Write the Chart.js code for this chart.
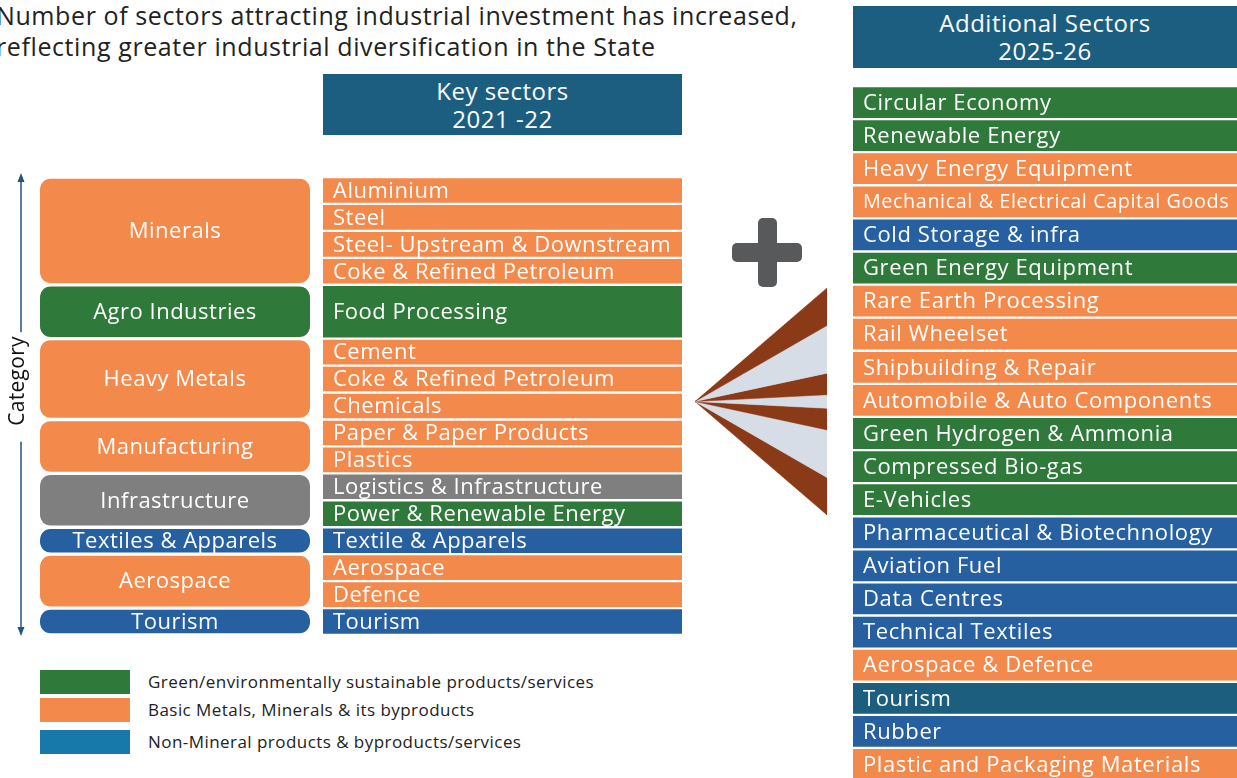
<!DOCTYPE html>
<html>
<head>
<meta charset="utf-8">
<title>Sectors attracting industrial investment</title>
<script src="https://cdn.jsdelivr.net/npm/chart.js@4.4.1/dist/chart.umd.min.js"></script>
<style>
  body { margin: 0; width: 1237px; height: 778px; overflow: hidden; background: #fff;
         position: relative; font-family: 'Open Sans', sans-serif; color: #222; }
  .title { position: absolute; left: -4px; top: 0; font-size: 25px; line-height: 31px; letter-spacing: 0.6px; white-space: nowrap; }
  .head { position: absolute; background: #1b5e80; color: #fff; text-align: center; letter-spacing: 0.5px;
          font-size: 24px; line-height: 28px; display: flex; flex-direction: column; justify-content: center; }
  .wrap { position: absolute; }
  .plus-h, .plus-v { position: absolute; background: #58595b; border-radius: 5px; }
  .legend-row { position: absolute; left: 40px; height: 24px; width: 620px; }
  .legend-row span.sw { position: absolute; left: 0; top: 0; width: 90px; height: 24px; }
  .legend-row span.tx { position: absolute; left: 108px; top: 0; line-height: 24px; font-size: 17px; letter-spacing: 0.45px; white-space: nowrap; }
</style>
</head>
<body>

<div class="title">Number of sectors attracting industrial investment has increased,<br>reflecting greater industrial diversification in the State</div>

<div class="head" style="left:323px; top:74px; width:359px; height:61px;"><div>Key sectors</div><div>2021 -22</div></div>
<div class="head" style="left:853px; top:6px; width:384px; height:62px;"><div>Additional Sectors</div><div>2025-26</div></div>

<div class="wrap" style="left:0; top:167px; width:310px; height:478px;"><canvas id="categoryChart"></canvas></div>
<div class="wrap" style="left:323px; top:177px; width:359px; height:458px;"><canvas id="keyChart"></canvas></div>
<div class="wrap" style="left:853px; top:86px; width:384px; height:695px;"><canvas id="addChart"></canvas></div>
<div class="wrap" style="left:695px; top:288px; width:132px; height:227px;"><canvas id="fanChart"></canvas></div>

<div class="plus-h" style="left:732px; top:243px; width:70px; height:19px;"></div>
<div class="plus-v" style="left:758px; top:218px; width:19px; height:69px;"></div>

<div id="legend"></div>

<script>
// ---- data ----
const categories = ['Minerals', 'Agro Industries', 'Heavy Metals', 'Manufacturing',
  'Infrastructure', 'Textiles & Apparels', 'Aerospace', 'Tourism'];
const categoryGroups = ['M', 'G', 'M', 'M', 'I', 'N', 'M', 'N'];

const keySectors = ['Aluminium', 'Steel', 'Steel- Upstream & Downstream', 'Coke & Refined Petroleum',
  'Food Processing', 'Cement', 'Coke & Refined Petroleum', 'Chemicals', 'Paper & Paper Products',
  'Plastics', 'Logistics & Infrastructure', 'Power & Renewable Energy', 'Textile & Apparels',
  'Aerospace', 'Defence', 'Tourism'];
const keySectorGroups = ['M', 'M', 'M', 'M', 'G', 'M', 'M', 'M', 'M', 'M', 'I', 'G', 'N', 'M', 'M', 'N'];
const keySectorRows = [1, 1, 1, 1, 2, 1, 1, 1, 1, 1, 1, 1, 1, 1, 1, 1];
const keySectorCategory = [0, 0, 0, 0, 1, 2, 2, 2, 3, 3, 4, 4, 5, 6, 6, 7];

const additionalSectors = ['Circular Economy', 'Renewable Energy', 'Heavy Energy Equipment',
  'Mechanical & Electrical Capital Goods', 'Cold Storage & infra', 'Green Energy Equipment',
  'Rare Earth Processing', 'Rail Wheelset', 'Shipbuilding & Repair', 'Automobile & Auto Components',
  'Green Hydrogen & Ammonia', 'Compressed Bio-gas', 'E-Vehicles', 'Pharmaceutical & Biotechnology',
  'Aviation Fuel', 'Data Centres', 'Technical Textiles', 'Aerospace & Defence', 'Tourism', 'Rubber',
  'Plastic and Packaging Materials'];
const additionalGroups = ['G', 'G', 'M', 'M', 'N', 'G', 'M', 'M', 'M', 'M', 'G', 'G', 'G',
  'N', 'N', 'N', 'N', 'M', 'T', 'N', 'M'];

const legendLabels = ['Green/environmentally sustainable products/services',
  'Basic Metals, Minerals & its byproducts', 'Non-Mineral products & byproducts/services'];

// fan: right-edge band boundaries (0 = top, 1 = bottom), apex on the left
const fanEdges = [0, 0.165, 0.375, 0.47, 0.53, 0.625, 0.835, 1];
const fanApex = 0.5;

// ---- styles ----
const groupColors = { G: '#2f7a3b', M: '#f4894c', N: '#2660a0', I: '#7f7f7f', T: '#1b5e7e' };
const legendColors = ['#2f7a3b', '#f4894c', '#1679a9'];
const fanColors = ['#8a3a17', '#d6dde6'];
const FONT = "'Open Sans', sans-serif";

// category spans come from the rows of their sectors
const categoryRows = categories.map((c, ci) =>
  keySectorRows.reduce((s, r, i) => s + (keySectorCategory[i] === ci ? r : 0), 0));

const barLabels = {
  id: 'barLabels',
  afterDatasetsDraw(chart, args, opts) {
    const ctx = chart.ctx;
    ctx.save();
    ctx.fillStyle = '#fff';
    ctx.textBaseline = 'middle';
    ctx.letterSpacing = opts.spacing + 'px';
    chart.data.datasets.forEach((ds, i) => {
      const bar = chart.getDatasetMeta(i).data[0];
      if (!bar) return;
      const { x, y, base, width } = bar.getProps(['x', 'y', 'base', 'width'], true);
      const cy = (y + base) / 2 + 1;
      let size = opts.size;
      ctx.font = `${size}px ${FONT}`;
      const room = width - 2 * opts.pad;
      const w = ctx.measureText(ds.label).width;
      if (w > room) {
        size = size * room / w;
        ctx.font = `${size}px ${FONT}`;
      }
      if (opts.align === 'center') {
        ctx.textAlign = 'center';
        ctx.fillText(ds.label, x, cy);
      } else {
        ctx.textAlign = 'left';
        ctx.fillText(ds.label, x - width / 2 + opts.pad, cy);
      }
    });
    ctx.restore();
  }
};

const categoryAxis = {
  id: 'categoryAxis',
  afterDraw(chart) {
    const ctx = chart.ctx;
    const area = chart.chartArea;
    const ax = 21, tx = 18, ty = 214;
    ctx.save();
    ctx.font = `21px ${FONT}`;
    ctx.letterSpacing = '0.3px';
    const half = ctx.measureText('Category').width / 2;
    ctx.strokeStyle = '#24557f';
    ctx.fillStyle = '#24557f';
    ctx.lineWidth = 1.5;
    ctx.beginPath();
    ctx.moveTo(ax, area.top + 2); ctx.lineTo(ax, ty - half - 4);
    ctx.moveTo(ax, ty + half + 16); ctx.lineTo(ax, area.bottom - 4);
    ctx.stroke();
    ctx.beginPath();
    ctx.moveTo(ax, area.top - 4); ctx.lineTo(ax - 3.5, area.top + 5); ctx.lineTo(ax + 3.5, area.top + 5); ctx.closePath();
    ctx.moveTo(ax, area.bottom + 1); ctx.lineTo(ax - 3.5, area.bottom - 8); ctx.lineTo(ax + 3.5, area.bottom - 8); ctx.closePath();
    ctx.fill();
    ctx.translate(tx, ty);
    ctx.rotate(-Math.PI / 2);
    ctx.fillStyle = '#111';
    ctx.textAlign = 'center';
    ctx.textBaseline = 'middle';
    ctx.fillText('Category', 0, 0);
    ctx.restore();
  }
};

const columnOptions = (labelOpts, extra = {}) => ({
  responsive: true,
  maintainAspectRatio: false,
  animation: false,
  events: [],
  layout: { padding: extra.padding || 0 },
  plugins: { legend: { display: false }, tooltip: { enabled: false }, barLabels: labelOpts },
  scales: {
    x: { stacked: true, display: false },
    y: Object.assign({ stacked: true, reverse: true, min: 0, display: false }, extra.y || {})
  }
});

const stackColumn = (labels, rows, groups, style) => labels.map((label, i) => ({
  label,
  data: [rows[i]],
  backgroundColor: groupColors[groups[i]],
  borderColor: '#fff',
  borderWidth: style.border,
  borderSkipped: false,
  borderRadius: style.radius,
  barPercentage: 1,
  categoryPercentage: 1
}));

const sum = (a) => a.reduce((s, v) => s + v, 0);

new Chart(document.getElementById('categoryChart'), {
  type: 'bar',
  data: {
    labels: ['Category'],
    datasets: stackColumn(categories, categoryRows, categoryGroups, {
      border: { top: 2, bottom: 2, left: 0, right: 0 },
      radius: { topLeft: 13, topRight: 13, bottomLeft: 13, bottomRight: 13 }
    })
  },
  options: columnOptions({ size: 22, pad: 8, align: 'center', spacing: 0.5 }, {
    padding: { top: 10, bottom: 10 },
    y: {
      max: sum(categoryRows), display: true,
      ticks: { display: false }, grid: { display: false }, border: { display: false },
      afterFit: (scale) => { scale.width = 40; }
    }
  }),
  plugins: [barLabels, categoryAxis]
});

new Chart(document.getElementById('keyChart'), {
  type: 'bar',
  data: {
    labels: ['2021-22'],
    datasets: stackColumn(keySectors, keySectorRows, keySectorGroups, {
      border: { top: 1.5, bottom: 1.5, left: 0, right: 0 }, radius: 0
    })
  },
  options: columnOptions({ size: 22, pad: 10, align: 'left', spacing: 0.5 }, { y: { max: sum(keySectorRows) } }),
  plugins: [barLabels]
});

const additionalRows = additionalSectors.map(() => 1);
new Chart(document.getElementById('addChart'), {
  type: 'bar',
  data: {
    labels: ['2025-26'],
    datasets: stackColumn(additionalSectors, additionalRows, additionalGroups, {
      border: { top: 1.5, bottom: 1.5, left: 0, right: 0 }, radius: 0
    })
  },
  options: columnOptions({ size: 22, pad: 10, align: 'left', spacing: 0.6 }, { y: { max: sum(additionalRows) } }),
  plugins: [barLabels]
});

// fan of triangles, each band from the apex to a stretch of the right edge
const fanDatasets = fanEdges.slice(0, -1).map((e, i) => ({
  label: 'band ' + (i + 1),
  data: [{ x: 0, y: fanApex }, { x: 1, y: e }, { x: 1, y: fanEdges[i + 1] }, { x: 0, y: fanApex }],
  showLine: true,
  fill: 'shape',
  backgroundColor: fanColors[i % 2],
  borderColor: fanColors[i % 2],
  borderWidth: 0.5,
  pointRadius: 0,
  tension: 0
}));

new Chart(document.getElementById('fanChart'), {
  type: 'scatter',
  data: { datasets: fanDatasets },
  options: {
    responsive: true,
    maintainAspectRatio: false,
    animation: false,
    events: [],
    plugins: { legend: { display: false }, tooltip: { enabled: false } },
    scales: {
      x: { type: 'linear', min: 0, max: 1, display: false },
      y: { type: 'linear', min: 0, max: 1, reverse: true, display: false }
    }
  }
});

// legend
const legendTops = [670, 698, 730];
const legendEl = document.getElementById('legend');
legendLabels.forEach((text, i) => {
  const row = document.createElement('div');
  row.className = 'legend-row';
  row.style.top = legendTops[i] + 'px';
  row.innerHTML = `<span class="sw" style="background:${legendColors[i]}"></span><span class="tx"></span>`;
  row.querySelector('.tx').textContent = text;
  legendEl.appendChild(row);
});
</script>
</body>
</html>
